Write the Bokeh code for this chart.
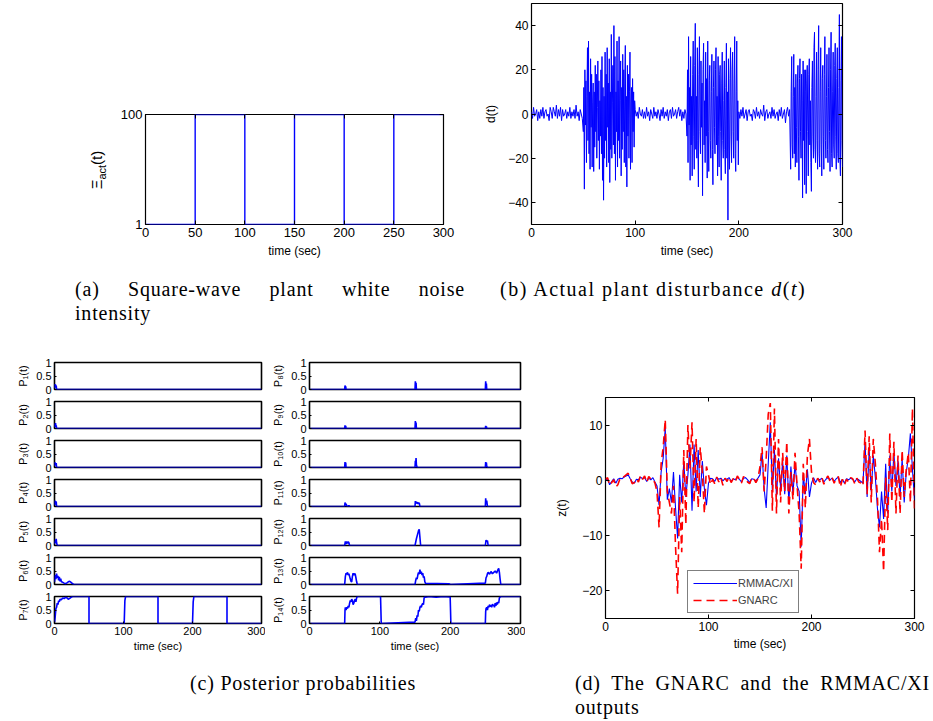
from bokeh.plotting import figure
from bokeh.models import (Range1d, LinearAxis, Legend, LegendItem,
                          CustomJSTickFormatter, FixedTicker, Div)
from bokeh.layouts import row, column
from bokeh.embed import file_html
from bokeh.resources import INLINE

# ---------------- data ----------------
# (a) square-wave white-noise intensity
t_sq = [0, 50, 100, 150, 200, 250, 300]
xi_act = [1, 100, 1, 100, 1, 100, 100]

# (b) actual plant disturbance: quiet stretches sampled every 1 s,
#     high-intensity stretches every 0.5 s
d_quiet1 = [
    1, -2, 3, -1, 0, 2, -3, 1, -2, 2,
    -1, 3, -2, 1, 2, -1, 0, -3, 3, 1,
    -2, 3, 1, -1, 4, -2, 2, -1, 3, -3,
    2, -1, 0, 2, -2, 1, -1, 3, -2, 1,
    -1, 2, -2, 4, -1, 1, -3, 2, 0, -2,
]
d_burst1 = [
    -8, 12, -34, 20, -5, 15, -22, 8, 30, -12,
    33, -18, 10, -25, 25, -6, 18, -24, 5, 14,
    -26, 10, -15, 22, -8, 18, -20, 3, 24, -12,
    15, -25, 6, -10, 20, -18, 26, -30, 12, -39,
    8, -20, 28, -12, 18, -24, 30, -6, 14, -22,
    25, -31, 10, -16, 36, -20, 5, 22, -14, 40,
    -18, 26, -30, 10, -8, 33, -24, 15, -12, 35,
    -20, 6, 24, -28, 12, -16, 27, -8, 20, -22,
    14, 31, -24, 8, -33, 22, -10, 18, -20, 10,
    28, -25, 5, 12, -22, 16, -8, 10, -15, 6,
]
d_quiet2 = [
    2, -1, 1, -2, 3, 0, -1, 2, -2, 1,
    -2, 3, -1, 1, -3, 2, 0, -2, 3, -1,
    1, -2, 2, 0, -3, 2, -1, 3, -2, 1,
    -1, 2, -3, 1, 2, -2, 3, -1, 0, 2,
    -2, 1, 3, -1, 2, -3, 1, -2, 2, 0,
]
d_burst2 = [
    -10, 20, -22, 35, -5, 12, -30, 26, -14, 8,
    -28, 18, 33, -10, -25, 22, 41, -16, 8, -20,
    30, -12, -33, 18, 35, -8, -18, 24, -6, 14,
    -37, 20, 32, -14, 6, -22, 28, -10, 16, -29,
    33, -8, -26, 15, 22, -12, -20, 10, 27, -16,
    -32, 12, 24, -6, -18, 20, 30, -14, 8, -28,
    26, -10, -24, 18, 22, -8, -30, 14, 28, -12,
    -20, 6, 24, -16, -27, 12, 32, -20, 10, -48,
    25, -14, -25, 16, 30, -10, -22, 20, 28, -8,
    -20, 14, 35, -18, -26, 10, 33, -12, 6, -23,
]
d_quiet3 = [
    1, -2, 2, -1, 3, -2, 0, 2, -3, 1,
    2, -1, 0, -3, 2, 1, -2, 3, -1, 1,
    -2, 2, 0, -1, 4, -3, 1, 2, -2, 0,
    1, -2, 3, -1, 2, -2, 0, 1, -3, 2,
    -1, 3, -2, 0, 2, -4, 1, 3, -1, 2,
]
d_burst3 = [
    -25, 10, 26, -14, -20, 8, 27, -18, 12, -24,
    18, -6, -22, 14, 22, -10, -30, 16, 25, -8,
    -20, 18, 6, -38, 24, -12, 20, -32, 10, 20,
    -36, 14, 22, -8, -28, 18, 25, -14, 6, -22,
    -35, 12, 24, -10, -20, 30, 37, -16, -22, 8,
    28, -12, -25, 20, 40, -18, -24, 10, 30, -14,
    -28, 16, 22, -10, -25, 18, 35, -12, -20, 8,
    27, -16, -22, 12, 30, -8, -26, 20, 37, -18,
    -24, 10, 28, -14, -20, 22, 32, -10, -25, 16,
    30, -18, -22, 12, 45, -20, -28, 15, 35, -12,
    -24,
]
t_d = (list(range(0, 50)) + [50 + k / 2 for k in range(100)]
       + list(range(100, 150)) + [150 + k / 2 for k in range(100)]
       + list(range(200, 250)) + [250 + k / 2 for k in range(101)])
d_vals = d_quiet1 + d_burst1 + d_quiet2 + d_burst2 + d_quiet3 + d_burst3

# (c) posterior probabilities of the 14 models, (time, probability) pairs
P1 = [(0, 0.05), (0.5, 0.2), (1, 0.1), (1.5, 0.18), (2, 0.08), (2.5, 0.15), (3, 0), (300, 0)]
P2 = [(0, 0.05), (0.5, 0.18), (1, 0.08), (1.5, 0.2), (2, 0.05), (2.5, 0.12), (3, 0), (300, 0)]
P3 = [(0, 0.05), (0.5, 0.2), (1, 0.12), (1.5, 0.15), (2, 0.1), (2.5, 0.16), (3, 0), (300, 0)]
P4 = [(0, 0.05), (0.5, 0.22), (1, 0.1), (1.5, 0.2), (2, 0.08), (2.5, 0.18), (3, 0), (300, 0)]
P5 = [(0, 0.05), (0.5, 0.15), (1, 0.1), (1.5, 0.22), (2, 0.12), (2.5, 0.25), (3, 0.1),
      (3.5, 0.05), (4, 0), (300, 0)]
P6 = [(0, 0.1), (1, 0.35), (2, 0.2), (3, 0.4), (4, 0.25), (5, 0.32), (6, 0.15), (7, 0.28),
      (8, 0.12), (9, 0.22), (10, 0.1), (12, 0.08), (14, 0.05), (16, 0.03), (18, 0.06),
      (20, 0.1), (22, 0.12), (24, 0.08), (26, 0.03), (28, 0.01), (30, 0), (300, 0)]
P7 = [(0, 0.05), (1, 0.25), (2, 0.55), (3, 0.6), (4, 0.75), (5, 0.7), (6, 0.85), (7, 0.8),
      (8, 0.9), (10, 0.88), (12, 0.95), (14, 0.92), (16, 0.97), (18, 0.95), (20, 0.9),
      (22, 0.93), (24, 0.97), (26, 1), (30, 1), (50, 1), (50, 0), (101, 0), (102, 0.85),
      (103, 1), (150, 1), (150, 0), (200, 0), (201, 0.8), (202, 1), (250, 1), (250, 0),
      (300, 0)]
P8 = [(0, 0), (50, 0), (50.5, 0.15), (51, 0.05), (51.5, 0.12), (52, 0), (150, 0),
      (150.5, 0.3), (151, 0.1), (151.5, 0.25), (152, 0), (250, 0), (250.5, 0.3),
      (251, 0.08), (251.5, 0.22), (252, 0), (300, 0)]
P9 = [(0, 0), (50, 0), (50.5, 0.12), (51, 0.04), (51.5, 0.1), (52, 0), (150, 0),
      (150.5, 0.28), (151, 0.1), (151.5, 0.22), (152, 0), (250, 0), (250.5, 0.1),
      (251, 0.03), (251.5, 0.08), (252, 0), (300, 0)]
P10 = [(0, 0), (50, 0), (50.5, 0.2), (51, 0.05), (51.5, 0.18), (52, 0), (150, 0),
       (150.5, 0.25), (151, 0.15), (151.5, 0.35), (152, 0.1), (153, 0), (250, 0),
       (250.5, 0.2), (251, 0.08), (251.5, 0.18), (252, 0.05), (253, 0), (300, 0)]
P11 = [(0, 0), (50, 0), (50.5, 0.15), (51, 0.05), (52, 0.1), (53, 0.02), (55, 0),
       (56, 0.04), (57, 0), (150, 0), (150.5, 0.2), (151, 0.12), (152, 0.18), (153, 0.1),
       (154, 0.15), (155, 0.1), (156, 0.14), (157, 0), (250, 0), (250.5, 0.3),
       (251, 0.15), (252, 0.22), (253, 0), (300, 0)]
P12 = [(0, 0), (50, 0), (51, 0.15), (52, 0.05), (53, 0.15), (54, 0.08), (55, 0.14),
       (56, 0.1), (57, 0), (150, 0), (152, 0.25), (154, 0.45), (155, 0.55), (156, 0.6),
       (157, 0.3), (158, 0), (250, 0), (251, 0.2), (252, 0.15), (253, 0.18), (254, 0),
       (300, 0)]
P13 = [(0, 0), (50, 0), (51, 0.3), (52, 0.42), (53, 0.38), (54, 0.45), (55, 0.35),
       (56, 0.4), (57, 0.3), (58, 0.2), (59, 0.12), (60, 0.1), (61, 0.3), (62, 0.42),
       (63, 0.35), (64, 0.4), (65, 0.38), (66, 0.25), (67, 0.1), (68, 0),
       (150, 0), (151, 0.15), (152, 0.25), (153, 0.2), (154, 0.35), (155, 0.45),
       (156, 0.38), (157, 0.55), (158, 0.4), (159, 0.48), (160, 0.35), (161, 0.42),
       (162, 0.25), (163, 0.3), (164, 0.1), (165, 0.04), (198, 0.03), (199, 0.02),
       (200, 0), (250, 0.05), (251, 0.25), (252, 0.3), (253, 0.4), (254, 0.45),
       (256, 0.38), (258, 0.48), (260, 0.4), (262, 0.45), (264, 0.5), (266, 0.42),
       (268, 0.55), (269, 0.6), (270, 0.45), (271, 0.2), (272, 0), (300, 0)]
P14 = [(0, 0), (50, 0), (50.5, 0.5), (51, 0.6), (52, 0.5), (53, 0.6), (54, 0.55),
       (55, 0.65), (56, 0.6), (57, 0.75), (58, 0.85), (59, 0.8), (60, 0.9), (61, 0.85),
       (62, 0.7), (63, 0.75), (64, 0.85), (65, 0.9), (66, 0.8), (67, 0.95), (68, 1),
       (101, 1), (101.5, 0.5), (102, 0),
       (150, 0.05), (151, 0.2), (152, 0.1), (153, 0.3), (154, 0.25), (155, 0.5),
       (156, 0.45), (157, 0.6), (158, 0.65), (159, 0.6), (160, 0.7), (161, 0.75),
       (162, 0.7), (163, 0.95), (164, 1), (165, 0.97), (170, 1), (180, 0.97), (190, 1),
       (200, 0.98), (200.5, 0.5), (201, 0),
       (250, 0), (250.5, 0.45), (251, 0.55), (252, 0.6), (253, 0.5), (254, 0.65),
       (255, 0.6), (256, 0.7), (257, 0.62), (258, 0.68), (259, 0.6), (260, 0.72),
       (261, 0.65), (262, 0.7), (263, 0.6), (264, 0.75), (265, 0.65), (266, 0.78),
       (267, 0.7), (268, 0.8), (269, 0.75), (270, 0.95), (271, 0.98), (272, 1), (300, 1)]
posteriors = [P1, P2, P3, P4, P5, P6, P7, P8, P9, P10, P11, P12, P13, P14]

# (d) performance output z(t), one sample every 2 seconds
t_z = list(range(0, 301, 2))
z_rmmac = [
    0, 0.3, -0.8, -0.2, 0.3, -0.5, 0.2, 0.4, 0.3, 0.6, 0.8, 1.0, 0.3, -0.3, -0.5,
    0.2, 0.1, 0.6, 0.3, 0.5, -0.2, 0.4, 0.1, 0.5, -0.3,
    -1, -4.5, 1.5, 4, 9.5, -3.5, -1.5, -4, 1.5, -5, -10.5, 1, -4, 3.5, -3,
    1, 6.5, -5.5, 6.5, -2, 5.5, -3, 3.5, -1.5, -4.5,
    -0.5, 0.4, 0.3, -0.2, 0.5, 0.2, 0.4, -0.1, 0.3, 0.2, 0.5, -0.2, 0.3, 0.1, 0.6,
    0.2, -0.3, 0.4, 0.5, 0.1, -0.4, 0.3, 0.2, -0.1, 0.4,
    1, 5, -1.5, -5, 3, 10.5, -2, 5.5, -3, 4, -1.5, 3.5, -2.5, 4.5, -4,
    2.5, -2.5, 3, -1, -2, -12, 1, -2.5, 2, -3,
    -0.5, 0.5, -0.4, 0.3, 0.1, 0.4, -0.3, 0.2, 0.5, 0.1, 0.4, -0.2, 0.3, 0.6, -0.4,
    0.2, -0.5, 0.3, 0.1, 0.4, 0.2, -0.3, 0.3, 0.1, -0.2,
    -0.5, 7, -3, 5.5, -2, 4.5, 0.5, -5, -8.5, -2, -7, 3, -6, 4.5, -2,
    5, -1, 3.5, -3, 4, -4, 1.5, 4, 8.5, 2, -3.5,
]
z_gnarc = [
    0.2, 0.5, -0.9, -0.4, 0.1, -1.2, -0.8, 0.3, 0.2, 0.7, 1.0, 1.3, 0.4, -0.6, -0.4,
    0.3, -0.3, 0.9, 0.2, 0.8, -0.4, 0.7, 0.2, 0.3, -0.5,
    -2, -8.5, 3, 6, 11, -2, -4, -6, -1, -12, -20.5, -3, -13, 5.5, -8,
    10, 2, 10.5, -4, 7.5, -5, 6, 1.5, -6, 2.5,
    1.0, -0.8, 0.2, -0.6, 0.6, -0.3, 0.5, -0.9, 0.4, -0.2, 0.6, -0.4, 0.3, -0.3, 0.8,
    0.2, -0.5, 0.7, 0.4, -0.3, -0.6, 0.5, 0.3, -0.4, 0.3,
    2.5, 6, -2, 4, 12, 14, -5.5, 13, -6, 7.5, -4, 5, -2, 7, -6,
    1.5, -3.5, 5, -1, -6, -16, 3, -5, 4.5, 7.5,
    1.5, -0.4, -0.8, 0.4, -0.3, 0.6, -0.7, 0.3, 0.8, -0.2, 0.5, -0.5, 0.4, 0.7, -1.2,
    0.2, -0.8, 0.2, -0.3, 0.5, 0.3, -0.6, 0.4, -0.3, -0.5,
    -1, 9, -2.5, 8, -4, 7.5, 3, -3, -13, -7, -16.5, 0.5, -9, 8.5, -4,
    7, -6, 4.5, -6, 5.5, -3, 2, 5, -4, 13, -5.5,
]

# ---------------- styling helpers ----------------
SANS = "Liberation Sans"
SERIF = "Liberation Serif"
BLUE = "#0000ff"
RED = "#ff0000"


def number_format():
    return CustomJSTickFormatter(
        code='return tick < 0 ? "\\u2212" + Math.abs(tick) : String(tick);')


def style(p, tick_px, label_px, tick_in, outline_w, ylab_standoff, xlab_standoff):
    p.grid.visible = False
    p.background_fill_color = "white"
    p.border_fill_color = "white"
    p.outline_line_color = "black"
    p.outline_line_width = outline_w
    for ax in p.axis:
        ax.axis_line_color = None
        ax.major_tick_in = tick_in
        ax.major_tick_out = 0
        ax.major_tick_line_color = "black"
        ax.minor_tick_line_color = None
        ax.major_label_text_font = SANS
        ax.major_label_text_font_size = f"{tick_px}px"
        ax.major_label_text_color = "black"
        ax.major_label_standoff = 3
        ax.axis_label_text_font = SANS
        ax.axis_label_text_font_size = f"{label_px}px"
        ax.axis_label_text_font_style = "normal"
        ax.axis_label_text_color = "black"
        ax.formatter = number_format()
    for ax in p.yaxis:
        ax.axis_label_standoff = ylab_standoff
    for ax in p.xaxis:
        ax.axis_label_standoff = xlab_standoff


def mirror(p, side, ticks, tick_in):
    # tick marks on the opposite edge of the box, without labels
    ax = LinearAxis(ticker=FixedTicker(ticks=ticks),
                    formatter=CustomJSTickFormatter(code='return "";'),
                    axis_line_color=None, major_tick_in=tick_in, major_tick_out=0,
                    minor_tick_line_color=None, major_label_standoff=0,
                    major_label_text_font_size="1px")
    p.add_layout(ax, side)


def make_fig(w, h, yr, left, right, top, bottom, **kw):
    return figure(width=w, height=h, x_range=Range1d(0, 300), y_range=Range1d(*yr),
                  output_backend="svg", toolbar_location=None, title=None,
                  min_border_left=left, min_border_right=right,
                  min_border_top=top, min_border_bottom=bottom, **kw)


# ---------------- (a) ----------------
pa = make_fig(356, 270, (1, 100), 35, 23, 114, 46)
pa.step(t_sq, xi_act, mode="after", line_color=BLUE, line_width=1.4)
pa.xaxis.ticker = FixedTicker(ticks=[0, 50, 100, 150, 200, 250, 300])
pa.yaxis.ticker = FixedTicker(ticks=[1, 100])
pa.xaxis.axis_label = "time (sec)"
style(pa, 13, 12, 4, 1.2, 8, 4)
mirror(pa, "right", [1, 100], 4)
mirror(pa, "above", [0, 50, 100, 150, 200, 250, 300], 4)

# rotated y label of (a), with a real subscript
xi_label = Div(
    text=('<div style="position:absolute;left:60px;top:160px;width:74px;height:20px;'
          'line-height:20px;text-align:center;white-space:nowrap;transform:rotate(-90deg);'
          f"font-family:'{SANS}';font-size:15px;color:#000;\">"
          'Ξ<sub style="font-size:11px;">act</sub>(t)</div>'),
    width=110, height=270, margin=0)

# ---------------- (b) ----------------
pb = make_fig(467, 270, (-50, 50), 65, 91, 3, 46)
pb.line(t_d, d_vals, line_color=BLUE, line_width=1)
pb.xaxis.ticker = FixedTicker(ticks=[0, 100, 200, 300])
pb.yaxis.ticker = FixedTicker(ticks=[-40, -20, 0, 20, 40])
pb.xaxis.axis_label = "time (sec)"
pb.yaxis.axis_label = "d(t)"
style(pb, 12, 12, 4, 1.2, 7, 4)
mirror(pb, "right", [-40, -20, 0, 20, 40], 4)

# ---------------- (c) ----------------
SUB = str.maketrans("0123456789", "₀₁₂₃₄₅₆₇₈₉")
heights = [55, 39, 39, 39, 39, 39, 70]
tops = [22, 6, 6, 6, 6, 6, 6]
bottoms = [6, 6, 6, 6, 6, 6, 37]


def small_panel(idx, col):
    r = idx % 7
    last = r == 6
    w, left, right = (265, 54, 4) if col == 0 else (260, 44, 5)
    extra = {} if last else {"x_axis_location": None}
    p = make_fig(w, heights[r], (0, 1), left, right, tops[r], bottoms[r], **extra)
    tt = [pt[0] for pt in posteriors[idx]]
    vv = [pt[1] for pt in posteriors[idx]]
    p.line(tt, vv, line_color=BLUE, line_width=1.6)
    p.yaxis.ticker = FixedTicker(ticks=[0, 0.5, 1])
    p.yaxis.axis_label = "P" + str(idx + 1).translate(SUB) + "(t)"
    if last:
        p.xaxis.ticker = FixedTicker(ticks=[0, 100, 200, 300])
        p.xaxis.axis_label = "time (sec)"
    style(p, 11, 11, 2, 1.6, 4, 2)
    return p


col_left = column([small_panel(i, 0) for i in range(7)], spacing=0)
col_right = column([small_panel(i, 1) for i in range(7, 14)], spacing=0)

# ---------------- (d) ----------------
pz = make_fig(408, 320, (-25, 15), 80, 19, 57, 42)
r_rm = pz.line(t_z, z_rmmac, line_color=BLUE, line_width=1.1)
r_gn = pz.line(t_z, z_gnarc, line_color=RED, line_width=1.6, line_dash="8 5")
pz.xaxis.ticker = FixedTicker(ticks=[0, 100, 200, 300])
pz.yaxis.ticker = FixedTicker(ticks=[-20, -10, 0, 10])
pz.xaxis.axis_label = "time (sec)"
pz.yaxis.axis_label = "z(t)"
style(pz, 12, 12, 4, 1.2, 10, 3)
mirror(pz, "right", [-20, -10, 0, 10], 4)
mirror(pz, "above", [0, 100, 200, 300], 4)
legend = Legend(items=[LegendItem(label="RMMAC/XI", renderers=[r_rm]),
                       LegendItem(label="GNARC", renderers=[r_gn])],
                location=(82, 5), border_line_color="black", border_line_width=1.2,
                background_fill_color="white", background_fill_alpha=1,
                label_text_font=SANS, label_text_font_size="11px",
                glyph_width=44, glyph_height=14, label_standoff=1,
                padding=5, spacing=3, margin=0, label_height=14)
pz.add_layout(legend)

# ---------------- captions ----------------
CAP = (f"font-family:'{SERIF}';font-size:20px;line-height:24px;color:#000;"
       "letter-spacing:0.8px;position:relative;")
JUST = "text-align:justify;text-align-last:justify;white-space:nowrap;"


def caption(html, w, h):
    return Div(text=html, width=w, height=h, margin=0)


cap_a = caption(f'<div style="{CAP}left:75px;top:7px;width:390px;">'
                f'<div style="{JUST}">(a) Square-wave plant white noise</div>'
                '<div>intensity</div></div>', 466, 70)
cap_b = caption(f'<div style="{CAP}left:34px;top:7px;white-space:nowrap;letter-spacing:1.5px;">'
                '(b) Actual plant disturbance <i>d</i>(<i>t</i>)</div>', 467, 70)
cap_c = caption(f'<div style="{CAP}left:190px;top:11px;white-space:nowrap;">'
                '(c) Posterior probabilities</div>', 525, 61)
cap_d = caption(f'<div style="{CAP}left:50px;top:11px;width:355px;">'
                f'<div style="{JUST}">(d) The GNARC and the RMMAC/XI</div>'
                '<div>outputs</div></div>', 408, 61)

layout = column([
    row([xi_label, column([pa]), column([pb])], spacing=0),
    row([cap_a, cap_b], spacing=0),
    row([col_left, col_right, pz], spacing=0),
    row([cap_c, cap_d], spacing=0),
], spacing=0)

open("out.html", "w").write(file_html(layout, INLINE, "Disturbance rejection results"))
